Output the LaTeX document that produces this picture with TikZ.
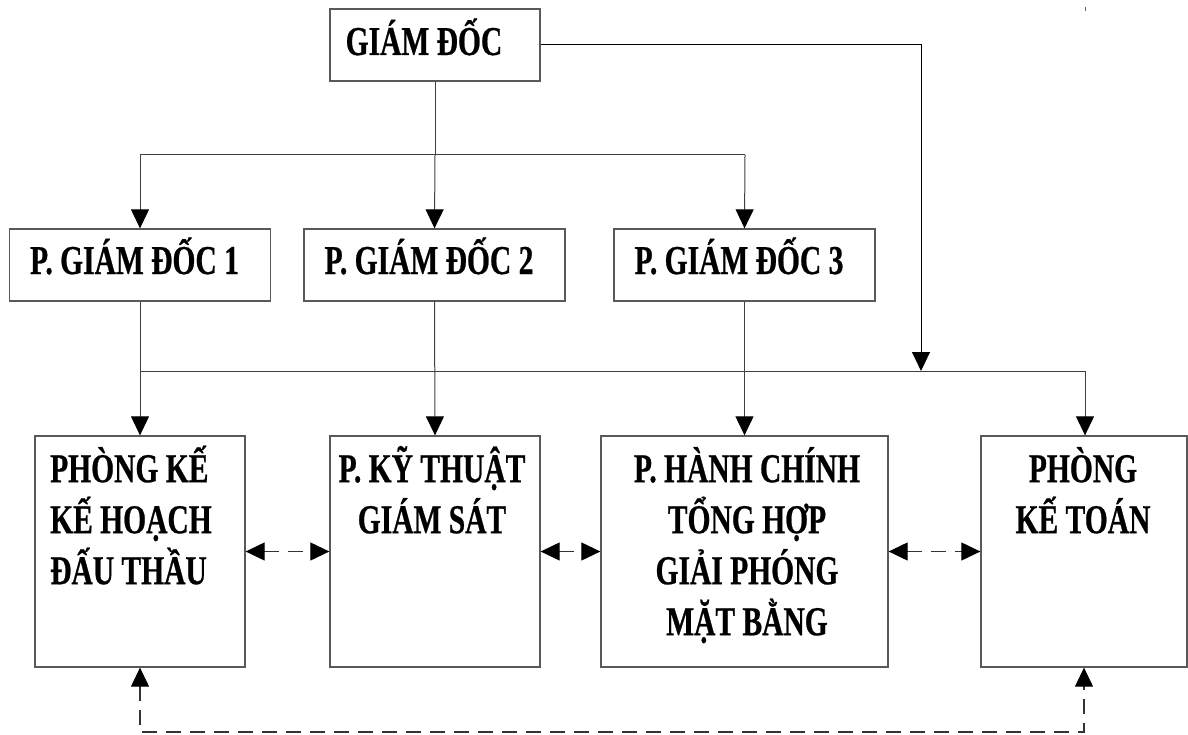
\documentclass[tikz,border=0pt]{standalone}
\usepackage{fontspec}
\setmainfont{Liberation Serif}[FakeStretch=0.72, BoldFeatures={FakeBold=0.6}]
\usetikzlibrary{arrows.meta}
\newcommand{\capstrut}{\rule{0pt}{41pt}}
\begin{document}
\begin{tikzpicture}[x=1pt,y=-1pt,
  >={Triangle[length=19pt,width=18pt,color=black]},
  box/.style={draw=black!65, line width=1.3pt, inner sep=0pt},
  lbl/.style={inner sep=0pt, font=\fontsize{41}{51}\selectfont\bfseries},
  ln/.style={draw=black!75, line width=1pt},
  arr/.style={ln, ->},
  arrdark/.style={draw=black, line width=1pt, ->},
  darr/.style={draw=black!80, line width=1.1pt, <->, dash pattern=on 15pt off 9pt}]
\useasboundingbox (0,0) rectangle (1188,735);

% boxes
\node[box, minimum width=210pt, minimum height=72pt] (gd) at (435,45) {};
\node[box, minimum width=261pt, minimum height=72pt] (pg1) at (140,265) {};
\node[box, minimum width=261pt, minimum height=72pt] (pg2) at (434.5,265) {};
\node[box, minimum width=261pt, minimum height=72pt] (pg3) at (744.5,265) {};
\node[box, minimum width=210pt, minimum height=231pt] (kh) at (140,551.5) {};
\node[box, minimum width=210pt, minimum height=231pt] (kt) at (435,551.5) {};
\node[box, minimum width=287pt, minimum height=231pt] (hc) at (744.5,551.5) {};
\node[box, minimum width=206pt, minimum height=231pt] (ktoan) at (1084,551.5) {};

% labels
\node[lbl, anchor=base] (gdT) at (424,55) {GIÁM ĐỐC};
\node[lbl, anchor=base] (pg1T) at (134.5,274) {P. GIÁM ĐỐC 1};
\node[lbl, anchor=base] (pg2T) at (429,274) {P. GIÁM ĐỐC 2};
\node[lbl, anchor=base] (pg3T) at (739,274) {P. GIÁM ĐỐC 3};
\node[lbl, anchor=north west, align=left] (khT) at (50,441)
  {\capstrut PHÒNG KẾ\\KẾ HOẠCH\\ĐẤU THẦU};
\node[lbl, anchor=north, align=center] (ktT) at (432,441)
  {\capstrut P. KỸ THUẬT\\GIÁM SÁT};
\node[lbl, anchor=north, align=center] (hcT) at (747,441)
  {\capstrut P. HÀNH CHÍNH\\TỔNG HỢP\\GIẢI PHÓNG\\MẶT BẰNG};
\node[lbl, anchor=north, align=center] (ktoanT) at (1083,441)
  {\capstrut PHÒNG\\KẾ TOÁN};

% junction points
\coordinate (b1) at (140,155);
\coordinate (b3) at (745,155);
\coordinate (hL) at (140,371);
\coordinate (hR) at (1085,371);
\coordinate (gdR) at (921,371);
\coordinate (bot) at (610,732);

% director to deputies
\draw[ln] (gd.south) -- (gd.south |- b1);
\draw[ln] (b1) -- (b3);
\draw[arr] (b1) -- (pg1.north);
\draw[arr] (gd.south |- b1) -- (pg2.north);
\draw[arr] (b3) -- (pg3.north);

% director to the departments' bus
\draw[arrdark] (gd.east) -| (gdR);
\draw[ln] (hL) -- (hR);

% deputies to departments
\draw[arr] (pg1.south) -- (kh.north);
\draw[arr] (pg2.south) -- (kt.north);
\draw[arr] (pg3.south) -- (hc.north);
\draw[arr] (hR) -- (hR |- ktoan.north);

% coordination links
\draw[darr] (kh.east) -- (kt.west);
\draw[darr] (kt.east) -- (hc.west);
\draw[darr] (hc.east) -- (ktoan.west);
\draw[darr] (kh.south) -- (kh.south |- bot) -| (ktoan.south);

% small mark at the top
\draw[black!60, line width=1pt] (1085,7) -- (1085,11);
\end{tikzpicture}
\end{document}
